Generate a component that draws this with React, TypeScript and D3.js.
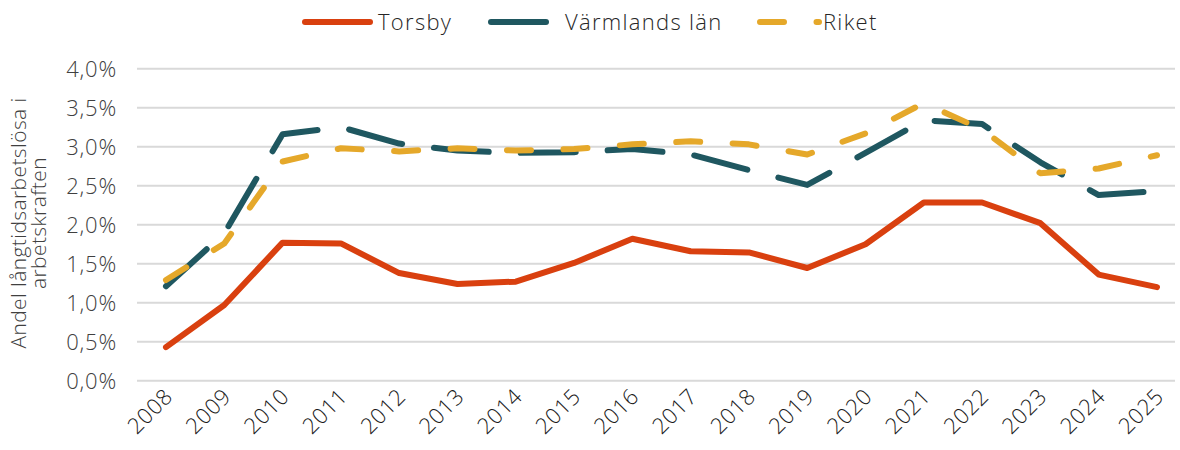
import React from "react";
import * as d3 from "d3";

const years = ["2008","2009","2010","2011","2012","2013","2014","2015","2016","2017","2018","2019","2020","2021","2022","2023","2024","2025"];
const torsby = [0.43,0.97,1.77,1.76,1.38,1.24,1.27,1.51,1.82,1.66,1.645,1.445,1.75,2.285,2.285,2.02,1.36,1.2];
const varmland = [1.21,1.89,3.16,3.25,3.04,2.95,2.92,2.93,2.97,2.9,2.7,2.51,2.92,3.34,3.29,2.8,2.38,2.43];
const riket = [1.29,1.76,2.81,2.98,2.94,2.98,2.95,2.97,3.03,3.07,3.03,2.9,3.17,3.56,3.22,2.66,2.72,2.89];
const yTicks = [0,0.5,1,1.5,2,2.5,3,3.5,4];
const seriesNames = ["Torsby","Värmlands län","Riket"];
const colors = ["#D9400F","#1F5760","#E5A82A"];
const dashes = ["none","55 32","24 32.5"];

const W = 1180, H = 450;
const FONT = "'Open Sans', 'Noto Sans', sans-serif";

export default function App() {
  const x = d3.scalePoint<string>().domain(years).range([166, 1157]);
  const y = d3.scaleLinear().domain([0, 4]).range([380.7, 68.7]);
  const fmt = (v: number) => v.toFixed(1).replace(".", ",") + "%";
  const line = d3.line<number>().x((_, i) => x(years[i]) as number).y((d) => y(d));
  const data = [torsby, varmland, riket];
  const legendItems = [
    { x1: 305, x2: 370, tx: 378 },
    { x1: 491, x2: 546, tx: 565 },
    { x1: 760, x2: 819, tx: 823 },
  ];
  return (
    <svg width={W} height={H} style={{ position: "absolute", left: 0, top: 0, background: "#fff" }} fontFamily={FONT}>
      {yTicks.map((t) => (
        <g key={t}>
          <line x1={137} x2={1175} y1={y(t)} y2={y(t)} stroke="#d9d9d9" strokeWidth={2} />
          <text x={117} y={y(t)} dy="0.36em" textAnchor="end" fontSize={22} fontWeight={300} letterSpacing={0.8} fill="#404040">{fmt(t)}</text>
        </g>
      ))}
      {years.map((yr) => (
        <text key={yr} transform={`translate(${(x(yr) as number) + 8},${398}) rotate(-45)`} textAnchor="end" fontSize={22} fontWeight={300} letterSpacing={0.6} fill="#1a1a1a">{yr}</text>
      ))}
      <text transform={`translate(26,223) rotate(-90)`} textAnchor="middle" fontSize={21} fontWeight={300} letterSpacing={0.4} fill="#404040">
        <tspan x={0} dy={0}>Andel långtidsarbetslösa i</tspan>
        <tspan x={0} dy={20}>arbetskraften</tspan>
      </text>
      {data.map((d, i) => (
        <path key={i} d={line(d) as string} fill="none" stroke={colors[i]} strokeWidth={6}
          strokeDasharray={dashes[i]} strokeLinecap="round" strokeLinejoin="round" />
      ))}
      {seriesNames.map((n, i) => (
        <g key={n}>
          <line x1={legendItems[i].x1} x2={legendItems[i].x2} y1={22} y2={22} stroke={colors[i]} strokeWidth={6}
            strokeDasharray={dashes[i]} strokeLinecap="round" />
          <text x={legendItems[i].tx} y={22} dy="0.36em" fontSize={22} fontWeight={300} letterSpacing={1.3} fill="#262626">{n}</text>
        </g>
      ))}
    </svg>
  );
}
